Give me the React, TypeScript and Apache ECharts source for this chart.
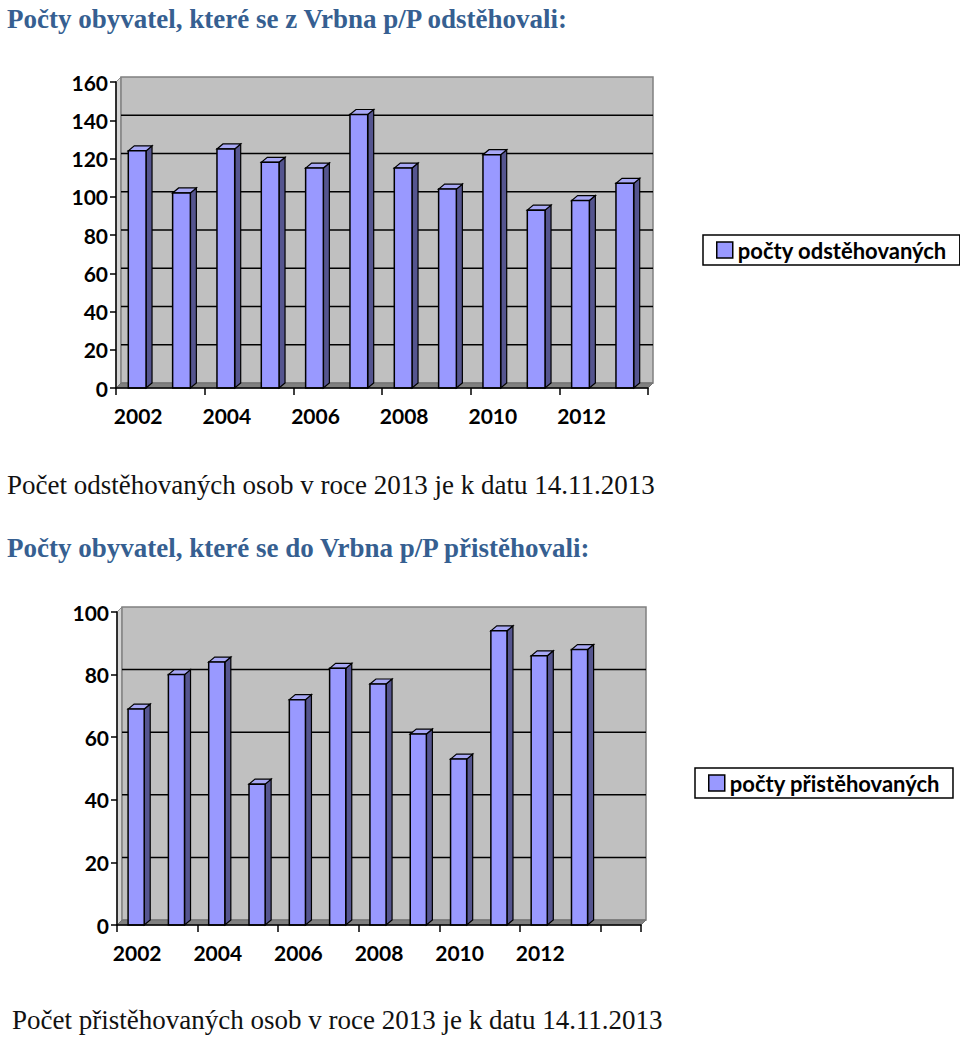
import React, { useEffect, useRef } from "react";
import * as echarts from "echarts";

const years1 = ["2002", "2003", "2004", "2005", "2006", "2007", "2008", "2009", "2010", "2011", "2012", "2013"];
const odstehovani = [124, 102, 125, 118, 115, 143, 115, 104, 122, 93, 98, 107];
const yTicks1 = [0, 20, 40, 60, 80, 100, 120, 140, 160];

const years2 = ["2002", "2003", "2004", "2005", "2006", "2007", "2008", "2009", "2010", "2011", "2012", "2013", ""];
const pristehovani = [69, 80, 84, 45, 72, 82, 77, 61, 53, 94, 86, 88];
const yTicks2 = [0, 20, 40, 60, 80, 100];

const title1 = "Počty obyvatel, které se z Vrbna p/P odstěhovali:";
const caption1 = "Počet odstěhovaných osob v roce 2013 je k datu 14.11.2013";
const title2 = "Počty obyvatel, které se do Vrbna p/P přistěhovali:";
const caption2 = "Počet přistěhovaných osob v roce 2013 je k datu 14.11.2013";
const legend1 = "počty odstěhovaných";
const legend2 = "počty přistěhovaných";

const DX = 5;
const DY = 5;
const FRONT = "#9999ff";
const SIDE = "#55558f";
const TOP = "#a8a8f5";
const SANS = "Lato";
const SERIF = "'Liberation Serif', 'Times New Roman', serif";
const TITLE_COLOR = "#365f91";

function wallRender(ticks: number[]) {
  return (params: any, api: any) => {
    const cs = params.coordSys;
    const x = cs.x, y = cs.y, w = cs.width, h = cs.height;
    const y0 = y + h;
    const children: any[] = [
      {
        type: "polygon",
        shape: { points: [[x, y0], [x, y], [x + DX, y - DY], [x + DX, y0 - DY]] },
        style: { fill: "#d4d4d4", stroke: "#909090", lineWidth: 1 },
      },
      {
        type: "rect",
        shape: { x: x + DX, y: y - DY, width: w, height: h },
        style: { fill: "#c0c0c0", stroke: "#808080", lineWidth: 1.5 },
      },
    ];
    ticks.forEach((t) => {
      if (t === 0) return;
      const yy = api.coord([0, t])[1] - DY;
      if (yy <= y - DY + 1) return;
      children.push({
        type: "line",
        shape: { x1: x + DX, y1: yy, x2: x + w + DX, y2: yy },
        style: { stroke: "#000", lineWidth: 1.5 },
      });
    });
    children.push({
      type: "polygon",
      shape: { points: [[x, y0], [x + w, y0], [x + w + DX, y0 - DY], [x + DX, y0 - DY]] },
      style: { fill: "#808080", stroke: "#707070", lineWidth: 1 },
    });
    return { type: "group", children };
  };
}

function barRender(params: any, api: any) {
  const i = api.value(0);
  const v = api.value(1);
  const top = api.coord([i, v]);
  const base = api.coord([i, 0]);
  const band = api.size([1, 0])[0];
  const w = band * 0.4;
  const cx = top[0] - 1;
  const x0 = cx - w / 2;
  const x1 = cx + w / 2;
  const yT = top[1];
  const yB = base[1];
  return {
    type: "group",
    children: [
      {
        type: "polygon",
        shape: { points: [[x1, yB], [x1, yT], [x1 + DX + 1, yT - DY], [x1 + DX + 1, yB - DY]] },
        style: { fill: SIDE, stroke: "#000", lineWidth: 1.2 },
      },
      {
        type: "polygon",
        shape: { points: [[x0, yT], [x1, yT], [x1 + DX + 1, yT - DY], [x0 + DX + 1, yT - DY]] },
        style: { fill: TOP, stroke: "#000", lineWidth: 1.2 },
      },
      {
        type: "rect",
        shape: { x: x0, y: yT, width: w, height: yB - yT },
        style: { fill: FRONT, stroke: "#000", lineWidth: 1.5 },
      },
    ],
  };
}

const axisLabel = { color: "#000", fontWeight: "bold" as const, fontSize: 21, fontFamily: SANS };

function makeXAxis(gridIndex: number, data: string[]) {
  return {
    type: "category",
    gridIndex,
    data,
    z: 5,
    axisLine: { show: true, lineStyle: { color: "#000", width: 1.5 } },
    axisTick: { show: true, length: 7, lineStyle: { color: "#000", width: 1.5 } },
    axisLabel: { ...axisLabel, interval: 1, margin: 17 },
    splitLine: { show: false },
  };
}

function makeYAxis(gridIndex: number, max: number) {
  return {
    type: "value",
    gridIndex,
    min: 0,
    max,
    interval: 20,
    z: 5,
    axisLine: { show: true, lineStyle: { color: "#000", width: 1.5 } },
    axisTick: { show: true, length: 6, lineStyle: { color: "#000", width: 1.5 } },
    axisLabel: { ...axisLabel, margin: 8 },
    splitLine: { show: false },
  };
}

function makeLegend(name: string, left: number, top: number) {
  return {
    data: [
      {
        name,
        icon: "rect",
        itemStyle: { color: FRONT, borderColor: "#000", borderWidth: 1.5 },
      },
    ],
    left,
    top,
    orient: "horizontal",
    backgroundColor: "#fff",
    borderColor: "#000",
    borderWidth: 1.5,
    borderRadius: 0,
    padding: [4, 13],
    itemWidth: 16,
    itemHeight: 16,
    itemGap: 6,
    selectedMode: false,
    textStyle: { color: "#000", fontWeight: "bold", fontSize: 22, fontFamily: SANS },
  };
}

export default function App() {
  const ref = useRef<HTMLDivElement>(null);

  useEffect(() => {
    if (!ref.current) return;
    const chart = echarts.init(ref.current, null, { renderer: "svg" });
    chart.setOption({
      animation: false,
      backgroundColor: "#fff",
      grid: [
        { left: 116, top: 82, width: 532, height: 306 },
        { left: 117, top: 612, width: 524, height: 313 },
      ],
      xAxis: [makeXAxis(0, years1), makeXAxis(1, years2)],
      yAxis: [makeYAxis(0, 160), makeYAxis(1, 100)],
      legend: [makeLegend(legend1, 703, 235), makeLegend(legend2, 695, 768)],
      series: [
        {
          type: "custom",
          name: "wall1",
          xAxisIndex: 0,
          yAxisIndex: 0,
          z: 1,
          silent: true,
          renderItem: wallRender(yTicks1),
          data: [[0, 0]],
        },
        {
          type: "custom",
          name: legend1,
          xAxisIndex: 0,
          yAxisIndex: 0,
          z: 2,
          itemStyle: { color: FRONT },
          renderItem: barRender,
          data: odstehovani.map((v, i) => [i, v]),
        },
        {
          type: "custom",
          name: "wall2",
          xAxisIndex: 1,
          yAxisIndex: 1,
          z: 1,
          silent: true,
          renderItem: wallRender(yTicks2),
          data: [[0, 0]],
        },
        {
          type: "custom",
          name: legend2,
          xAxisIndex: 1,
          yAxisIndex: 1,
          z: 2,
          itemStyle: { color: FRONT },
          renderItem: barRender,
          data: pristehovani.map((v, i) => [i, v]),
        },
      ],
      graphic: [
        {
          type: "text",
          x: 7,
          y: 19,
          style: { text: title1, font: `bold 27px ${SERIF}`, fill: TITLE_COLOR, textVerticalAlign: "middle" },
        },
        {
          type: "text",
          x: 7,
          y: 485,
          style: { text: caption1, font: `27px ${SERIF}`, fill: "#111", textVerticalAlign: "middle" },
        },
        {
          type: "text",
          x: 7,
          y: 548,
          style: { text: title2, font: `bold 27px ${SERIF}`, fill: TITLE_COLOR, textVerticalAlign: "middle" },
        },
        {
          type: "text",
          x: 12,
          y: 1020,
          style: { text: caption2, font: `27px ${SERIF}`, fill: "#111", textVerticalAlign: "middle" },
        },
      ],
    });
    return () => chart.dispose();
  }, []);

  return (
    <div
      ref={ref}
      style={{ position: "absolute", left: 0, top: 0, width: 960, height: 1038, background: "#fff" }}
    />
  );
}
